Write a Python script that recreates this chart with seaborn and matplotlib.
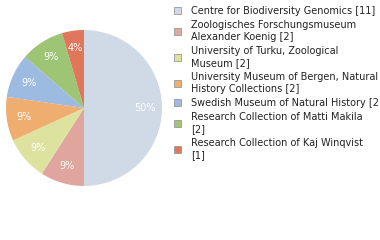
import matplotlib
matplotlib.use("Agg")
import matplotlib.pyplot as plt
from matplotlib.patches import Patch
import seaborn as sns

labels = [
    "Centre for Biodiversity Genomics [11]",
    "Zoologisches Forschungsmuseum\nAlexander Koenig [2]",
    "University of Turku, Zoological\nMuseum [2]",
    "University Museum of Bergen, Natural\nHistory Collections [2]",
    "Swedish Museum of Natural History [2]",
    "Research Collection of Matti Makila\n[2]",
    "Research Collection of Kaj Winqvist\n[1]",
]
counts = [11, 2, 2, 2, 2, 2, 1]
colors = ["#cfdae6", "#e0a69d", "#dde39f", "#f0ad70", "#9dbbe0", "#9dc575", "#e0765a"]

sns.set_theme(style="white")
plt.rcParams['font.family'] = ['DejaVu Sans']

fig = plt.figure(figsize=(3.8, 2.4), dpi=100)
ax = fig.add_axes([6/380, 54/240, 156/380, 156/240])
wedges, texts, autotexts = ax.pie(
    counts, colors=colors, startangle=90, counterclock=False,
    autopct=lambda p: f"{int(p)}%", pctdistance=0.78,
    wedgeprops=dict(linewidth=0), textprops=dict(color="white", fontsize=7),
)
ax.set_xlim(-1, 1)
ax.set_ylim(-1, 1)
ax.set_aspect("equal")

handles = [Patch(facecolor=c, edgecolor="#999999", linewidth=0.6) for c in colors]
leg = fig.legend(handles, labels, loc="upper left", bbox_to_anchor=(174/380, 1 - 6/240),
                 frameon=False, fontsize=7, handlelength=0.75, handleheight=0.75,
                 handletextpad=1.03, labelspacing=0.44, borderaxespad=0, borderpad=0)
for t in leg.get_texts():
    t.set_color("#222222")
fig.savefig("out.png", dpi=100)
